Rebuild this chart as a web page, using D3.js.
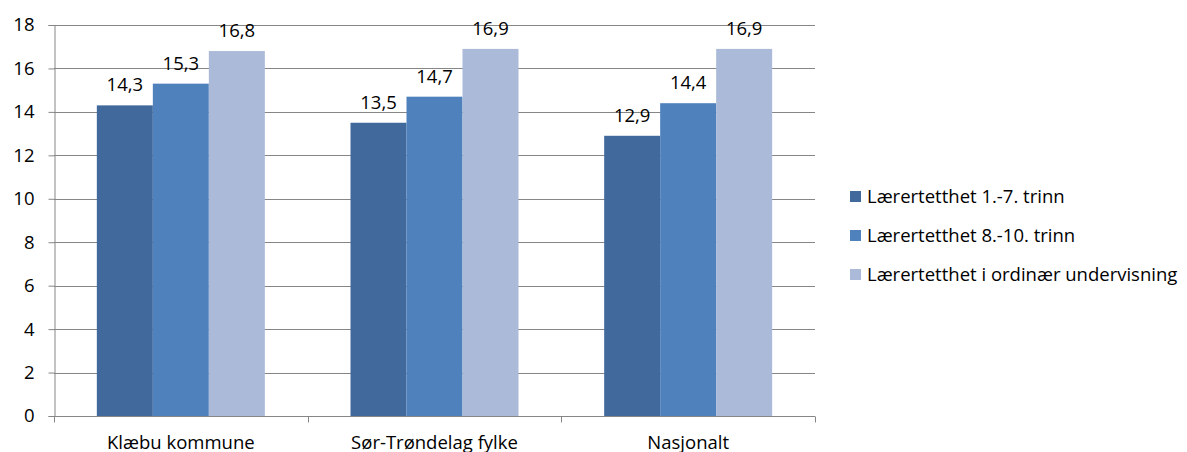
<!DOCTYPE html>
<html><head><meta charset="utf-8">
<script src="https://cdn.jsdelivr.net/npm/d3@7"></script>
<style>body{margin:0;background:#fff}svg{display:block}text{font-family:"Open Sans",sans-serif;fill:#000}</style>
</head><body><svg id="c" width="1187" height="452"></svg>
<script>
const categories = ["Klæbu kommune", "Sør-Trøndelag fylke", "Nasjonalt"];
const seriesNames = ["Lærertetthet 1.-7. trinn", "Lærertetthet 8.-10. trinn", "Lærertetthet i ordinær undervisning"];
const series1 = [14.3, 13.5, 12.9];
const series2 = [15.3, 14.7, 14.4];
const series3 = [16.8, 16.9, 16.9];
const yTicks = [0, 2, 4, 6, 8, 10, 12, 14, 16, 18];
const colors = ["#41699B", "#4F81BD", "#AABAD8"];

const seriesVals = [series1, series2, series3];
const svg = d3.select("#c");
const L = 54, R = 815, T = 25, B = 416;
const x = d3.scaleBand().domain(categories).range([L, R]);
const inner = d3.scaleBand().domain(d3.range(3)).range([0, x.bandwidth()]).paddingOuter(0.765).paddingInner(0);
const y = d3.scaleLinear().domain([0, 18]).range([B, T]);
const fs = 18.5;

// gridlines
svg.append("g").selectAll("line").data(yTicks.filter(d => d > 0)).join("line")
  .attr("x1", L).attr("x2", R).attr("y1", d => Math.round(y(d)) + 0.5).attr("y2", d => Math.round(y(d)) + 0.5)
  .attr("stroke", "#868686").attr("stroke-width", 1);

// bars
const g = svg.append("g");
categories.forEach((c, ci) => {
  seriesVals.forEach((vals, si) => {
    const bx = x(c) + inner(si);
    g.append("rect").attr("x", bx).attr("y", y(vals[ci])).attr("width", inner.bandwidth()).attr("height", B - y(vals[ci]))
      .attr("fill", colors[si]);
    g.append("text").attr("x", bx + inner.bandwidth() / 2).attr("y", y(vals[ci]) - 14)
      .attr("text-anchor", "middle").attr("font-size", fs).text(String(vals[ci]).replace(".", ","));
  });
});

// y axis
const ya = d3.axisLeft(y).tickValues(yTicks).tickSize(6).tickPadding(14).tickFormat(d3.format("d"));
const yg = svg.append("g").attr("transform", `translate(${L + 0.5},0)`).call(ya);
yg.select(".domain").attr("stroke", "#868686");
yg.selectAll(".tick line").attr("stroke", "#868686");
yg.selectAll("text").attr("font-size", fs).attr("font-family", "Open Sans").attr("fill", "#000");

// x axis
const xa = d3.axisBottom(x).tickSize(0).tickPadding(0);
const xg = svg.append("g").attr("transform", `translate(0,${B + 0.5})`).call(xa);
xg.select(".domain").attr("d", `M${L},0H${R}`).attr("stroke", "#868686");
xg.selectAll(".tick text").attr("font-size", fs).attr("font-family", "Open Sans").attr("fill", "#000").attr("dy", 0).attr("y", 32);
// category boundary ticks
const bounds = categories.map(c => x(c)).concat([R]);
xg.append("g").selectAll("line").data(bounds).join("line")
  .attr("x1", d => Math.round(d) + 0.5).attr("x2", d => Math.round(d) + 0.5).attr("y1", 0).attr("y2", 6).attr("stroke", "#868686");

// legend
const lg = svg.append("g").attr("transform", "translate(850,191)");
seriesNames.forEach((n, i) => {
  const row = lg.append("g").attr("transform", `translate(0,${i * 39})`);
  row.append("rect").attr("width", 11).attr("height", 11).attr("fill", colors[i]);
  row.append("text").attr("x", 17).attr("y", 12).attr("font-size", fs).text(n);
});
</script></body></html>
